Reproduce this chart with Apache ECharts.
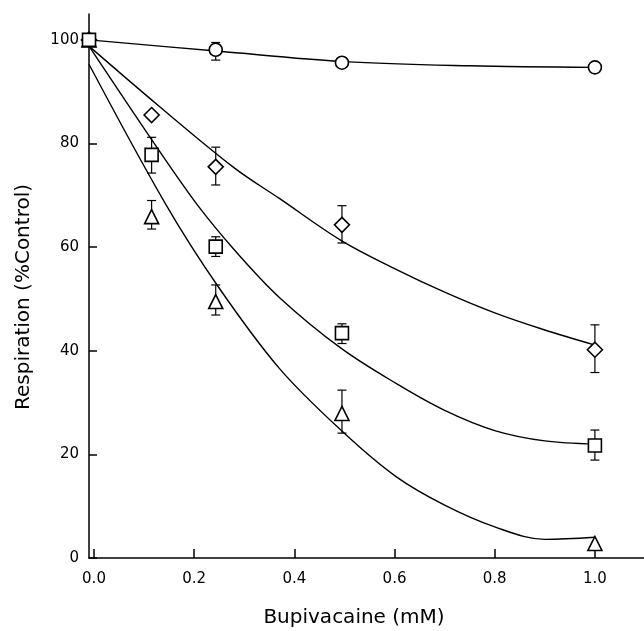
<!DOCTYPE html>
<html>
<head>
<meta charset="utf-8">
<script src="https://cdn.jsdelivr.net/npm/echarts@6/dist/echarts.min.js"></script>
<style>html,body{margin:0;padding:0;background:#fff;}#c{width:644px;height:631px;}</style>
</head>
<body>
<div id="c"></div>
<script>
// ---- Data ----
const xTicks = [0, 0.2, 0.4, 0.6, 0.8, 1.0];
const yTicks = [0, 20, 40, 60, 80, 100];

// measured points [dose mM, % control]
const circlePts  = [[-0.01, 100], [0.243, 98.1], [0.495, 95.6], [1.0, 94.7]];
const diamondPts = [[-0.01, 100], [0.115, 85.5], [0.243, 75.5], [0.495, 64.3], [1.0, 40.2]];
const squarePts  = [[-0.01, 100], [0.115, 77.8], [0.243, 60.1], [0.495, 43.4], [1.0, 21.7]];
const trianglePts= [[-0.01, 100], [0.115, 65.9], [0.243, 49.5], [0.495, 27.9], [1.0, 2.8]];

// error bars [dose, low, high]
const circleErr  = [[0.243, 96.1, 99.5]];
const diamondErr = [[0.243, 72.0, 79.3], [0.495, 60.8, 68.0], [1.0, 35.8, 45.0]];
const squareErr  = [[0.115, 74.3, 81.2], [0.243, 58.2, 62.0], [0.495, 41.4, 45.2], [1.0, 18.9, 24.7]];
const triangleErr= [[0.115, 63.5, 69.0], [0.243, 46.9, 52.7], [0.495, 24.1, 32.4]];

// fitted curves
const circleCurve  = [[-0.01, 100], [0.25, 97.8], [0.5, 95.8], [0.75, 95.0], [1.0, 94.7]];
const diamondCurve = [[-0.01, 98.8], [0.13, 87.2], [0.28, 75.3], [0.37, 69.4], [0.493, 61.3], [0.603, 55.7], [0.7, 51.3], [0.8, 47.3], [0.9, 44.0], [1.0, 41.1]];
const squareCurve  = [[-0.01, 98.8], [0.126, 79.2], [0.206, 68.2], [0.28, 59.5], [0.37, 50.3], [0.493, 40.5], [0.603, 33.7], [0.7, 28.5], [0.8, 24.6], [0.9, 22.6], [1.0, 22.0]];
const triangleCurve= [[-0.01, 95.3], [0.143, 68.3], [0.247, 52.5], [0.37, 36.6], [0.496, 24.4], [0.603, 15.7], [0.7, 10.2], [0.8, 6.0], [0.9, 3.6], [1.0, 4.0]];

// ---- Chart ----
const FONT = 'DejaVu Sans';
const chart = echarts.init(document.getElementById('c'), null, {renderer: 'canvas'});

function curveSeries(data) {
  return {
    type: 'line', data: data, smooth: 0.35, showSymbol: false, symbol: 'none',
    lineStyle: {color: '#000', width: 1.4}, z: 2, silent: true, animation: false
  };
}
function errSeries(data) {
  return {
    type: 'custom', data: data, z: 3, silent: true, animation: false,
    encode: {x: 0, y: [1, 2]},
    renderItem: function (params, api) {
      const x = api.value(0);
      const lo = api.coord([x, api.value(1)]);
      const hi = api.coord([x, api.value(2)]);
      const w = 4.5;
      const st = {stroke: '#000', lineWidth: 1.2};
      return {
        type: 'group',
        children: [
          {type: 'line', shape: {x1: lo[0], y1: lo[1], x2: hi[0], y2: hi[1]}, style: st},
          {type: 'line', shape: {x1: lo[0] - w, y1: lo[1], x2: lo[0] + w, y2: lo[1]}, style: st},
          {type: 'line', shape: {x1: hi[0] - w, y1: hi[1], x2: hi[0] + w, y2: hi[1]}, style: st}
        ]
      };
    }
  };
}
function pointSeries(data, symbol, size) {
  return {
    type: 'scatter', data: data, symbol: symbol, symbolSize: size, z: 4, animation: false,
    itemStyle: {color: '#fff', borderColor: '#000', borderWidth: 1.6, opacity: 1}
  };
}

chart.setOption({
  backgroundColor: '#fff',
  animation: false,
  grid: {left: 89, top: 14, width: 556, height: 544, outerBoundsMode: 'none'},
  xAxis: {
    type: 'value', min: -0.01, max: 1.1,
    name: 'Bupivacaine (mM)', nameLocation: 'middle', nameGap: 50,
    nameTextStyle: {fontFamily: FONT, fontSize: 20, color: '#000', padding: [0, 26, 0, 0]},
    axisLine: {show: true, onZero: false, lineStyle: {color: '#000', width: 1.5}},
    axisTick: {show: true, inside: true, length: 9, customValues: xTicks, lineStyle: {color: '#000', width: 1.5}},
    axisLabel: {customValues: xTicks, margin: 14, fontFamily: FONT, fontSize: 15, color: '#000',
      formatter: function (v) { return v.toFixed(1); }},
    splitLine: {show: false}
  },
  yAxis: {
    type: 'value', min: 0, max: 105,
    name: 'Respiration (%Control)', nameLocation: 'middle', nameGap: 55,
    nameTextStyle: {fontFamily: FONT, fontSize: 20, color: '#000', padding: [0, 22, 0, 0]},
    axisLine: {show: true, onZero: false, lineStyle: {color: '#000', width: 1.5}},
    axisTick: {show: true, inside: true, length: 8, customValues: yTicks, lineStyle: {color: '#000', width: 1.5}},
    axisLabel: {customValues: yTicks, margin: 10, fontFamily: FONT, fontSize: 15, color: '#000'},
    splitLine: {show: false}
  },
  series: [
    curveSeries(circleCurve), curveSeries(diamondCurve), curveSeries(squareCurve), curveSeries(triangleCurve),
    errSeries(circleErr), errSeries(diamondErr), errSeries(squareErr), errSeries(triangleErr),
    pointSeries(circlePts, 'circle', 13),
    pointSeries(diamondPts, 'diamond', 15),
    pointSeries(trianglePts, 'triangle', 14),
    pointSeries(squarePts, 'rect', 13)
  ]
});
</script>
</body>
</html>
